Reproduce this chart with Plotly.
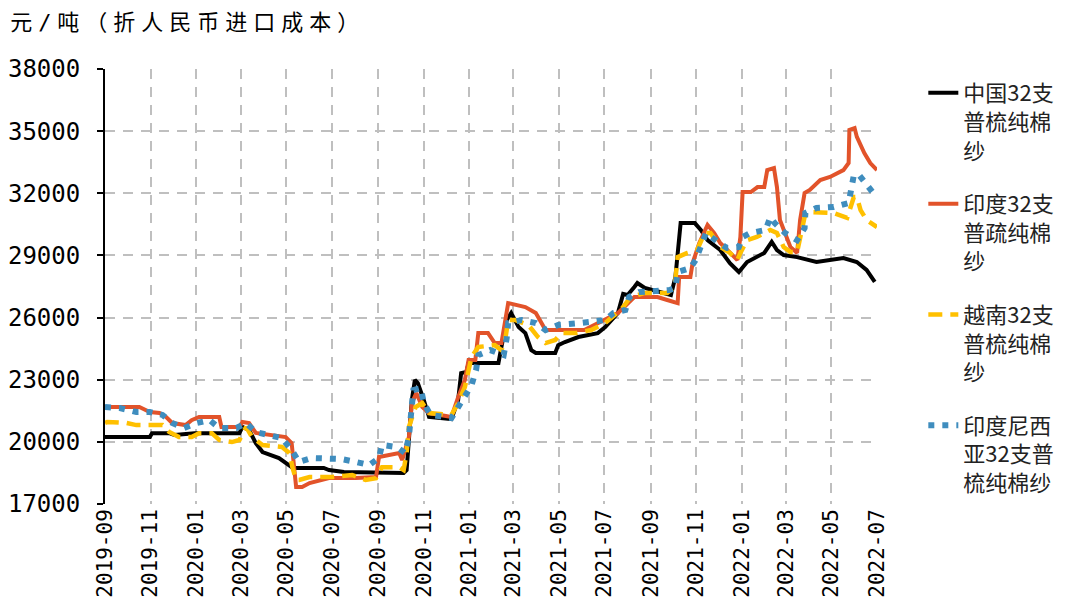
import plotly.graph_objects as go

# ---------------- data ----------------
china_dates = ["2019-09-01","2019-10-31","2019-11-03","2019-11-26","2019-12-03","2019-12-30","2020-02-28","2020-03-03","2020-03-12","2020-03-21","2020-03-30","2020-04-21","2020-05-08","2020-05-14","2020-06-20","2020-06-27","2020-07-17","2020-09-02","2020-10-05","2020-10-09","2020-10-16","2020-10-20","2020-10-24","2020-11-01","2020-11-08","2020-12-08","2020-12-17","2020-12-21","2020-12-28","2020-12-31","2021-02-09","2021-02-13","2021-02-20","2021-02-26","2021-03-08","2021-03-17","2021-03-25","2021-03-31","2021-04-26","2021-04-30","2021-05-09","2021-05-27","2021-06-22","2021-07-02","2021-07-19","2021-07-26","2021-08-01","2021-08-10","2021-08-14","2021-08-24","2021-09-19","2021-09-28","2021-10-04","2021-10-11","2021-10-30","2021-11-07","2021-11-16","2021-12-03","2021-12-16","2021-12-28","2022-01-08","2022-01-21","2022-01-31","2022-02-10","2022-02-17","2022-02-26","2022-03-16","2022-04-11","2022-04-29","2022-05-17","2022-06-04","2022-06-17","2022-06-28"]
china_vals = [20230,20230,20420,20420,20330,20420,20420,20720,20570,19940,19510,19220,18780,18740,18740,18640,18540,18500,18500,18640,22020,22990,22840,22020,21200,21100,22020,23320,23370,23810,23810,24580,25880,26220,25540,25250,24430,24290,24290,24670,24820,25060,25250,25540,26220,27140,27090,27480,27670,27430,27190,27090,27960,30560,30560,30230,29740,29260,28630,28200,28680,28920,29120,29650,29260,29020,28920,28680,28780,28870,28680,28300,27720]

india_dates = ["2019-09-01","2019-10-17","2019-10-31","2019-11-13","2019-11-22","2019-11-30","2019-12-18","2019-12-26","2020-01-05","2020-02-01","2020-02-04","2020-02-28","2020-03-03","2020-03-12","2020-03-21","2020-04-30","2020-05-08","2020-05-12","2020-05-14","2020-05-22","2020-06-01","2020-06-27","2020-08-02","2020-08-29","2020-09-02","2020-09-29","2020-10-03","2020-10-12","2020-10-16","2020-10-22","2020-10-30","2020-11-08","2020-12-08","2020-12-17","2020-12-26","2020-12-31","2021-01-09","2021-01-13","2021-01-26","2021-02-04","2021-02-13","2021-02-22","2021-03-17","2021-03-31","2021-04-13","2021-06-04","2021-06-22","2021-07-19","2021-08-10","2021-09-10","2021-09-23","2021-10-07","2021-10-09","2021-10-24","2021-10-27","2021-11-05","2021-11-16","2021-11-25","2021-12-03","2021-12-16","2021-12-26","2021-12-30","2022-01-02","2022-01-13","2022-01-22","2022-01-31","2022-02-04","2022-02-13","2022-02-17","2022-02-21","2022-03-07","2022-03-16","2022-03-20","2022-03-26","2022-04-02","2022-04-16","2022-04-29","2022-05-17","2022-05-24","2022-05-25","2022-06-01","2022-06-04","2022-06-14","2022-06-22","2022-07-01"]
india_vals = [21680,21680,21440,21390,21200,20910,20810,21050,21200,21200,20720,20720,20960,20910,20430,20230,19940,18160,17820,17820,18010,18250,18250,18300,19270,19460,19120,20230,21870,22360,21680,21390,21200,22160,22990,23950,23950,25250,25250,24770,24770,26700,26510,26220,25400,25400,25740,26220,26990,26990,26850,26700,27960,27960,28630,29600,30470,30080,29600,29120,28780,29890,32060,32060,32300,32300,33120,33220,32300,30710,29410,29120,30710,32010,32160,32640,32790,33120,33460,35060,35150,34720,33940,33460,33120]

vietnam_dates = ["2019-09-01","2019-09-04","2019-09-30","2019-10-13","2019-11-17","2019-11-26","2019-12-09","2019-12-26","2020-01-05","2020-01-22","2020-02-01","2020-02-18","2020-02-28","2020-03-08","2020-03-16","2020-03-30","2020-04-25","2020-05-05","2020-05-09","2020-05-14","2020-05-18","2020-06-01","2020-07-01","2020-07-28","2020-08-15","2020-08-29","2020-09-06","2020-09-29","2020-10-05","2020-10-09","2020-10-12","2020-10-21","2020-10-30","2020-11-08","2020-12-08","2020-12-17","2020-12-26","2021-01-04","2021-01-13","2021-02-04","2021-02-13","2021-02-18","2021-02-22","2021-03-04","2021-03-21","2021-04-03","2021-04-13","2021-04-26","2021-05-04","2021-05-23","2021-06-13","2021-07-02","2021-07-23","2021-08-05","2021-08-24","2021-09-23","2021-10-03","2021-10-07","2021-10-20","2021-11-02","2021-11-12","2021-11-20","2021-12-03","2021-12-16","2021-12-26","2021-12-30","2022-01-08","2022-01-21","2022-02-08","2022-02-17","2022-02-26","2022-03-07","2022-03-16","2022-03-26","2022-03-30","2022-05-04","2022-05-22","2022-05-31","2022-06-04","2022-06-09","2022-06-17","2022-07-01"]
vietnam_vals = [20910,20960,20910,20810,20810,20480,20230,20230,20420,20420,20090,19990,20090,20720,20230,19850,19750,19460,18780,18160,18160,18300,18300,18400,18160,18250,18780,18780,18640,19460,20720,21680,21870,21390,21300,21870,22650,24100,24580,24670,24430,24920,25880,25880,25640,25060,24770,24920,25250,25250,25400,25740,26370,26990,27190,27190,27480,28920,29120,29260,30080,30080,29410,29120,28780,29120,29740,29890,30230,30080,29410,29160,29160,30850,31100,31050,30810,31820,31820,31190,30710,30370]

indonesia_dates = ["2019-09-01","2019-09-21","2019-10-13","2019-10-31","2019-11-17","2019-11-30","2019-12-16","2020-01-02","2020-01-19","2020-02-01","2020-02-24","2020-03-08","2020-03-21","2020-04-08","2020-04-25","2020-05-08","2020-05-18","2020-06-04","2020-07-14","2020-08-02","2020-08-20","2020-09-02","2020-09-06","2020-09-26","2020-10-07","2020-10-12","2020-10-16","2020-10-18","2020-10-28","2020-11-01","2020-11-10","2020-12-08","2020-12-17","2020-12-26","2021-01-04","2021-01-10","2021-01-13","2021-01-29","2021-02-16","2021-02-20","2021-02-22","2021-03-12","2021-03-31","2021-04-13","2021-04-30","2021-05-30","2021-07-02","2021-07-13","2021-07-29","2021-08-03","2021-08-16","2021-09-26","2021-10-04","2021-10-07","2021-10-24","2021-10-31","2021-11-07","2021-11-14","2021-11-30","2021-12-12","2021-12-28","2022-01-02","2022-01-12","2022-02-02","2022-02-08","2022-02-14","2022-02-28","2022-03-16","2022-03-26","2022-03-27","2022-04-11","2022-05-04","2022-05-24","2022-05-28","2022-05-31","2022-06-07","2022-06-20","2022-06-28"]
indonesia_vals = [21680,21630,21440,21440,21300,20910,20670,20910,21050,20670,20670,20910,20470,20330,20180,19600,19030,19220,19170,19030,18880,19220,19850,19750,19460,20230,21680,22500,22600,21870,21300,21150,21680,22260,22740,23470,24190,24430,24190,25010,25740,25880,25740,25400,25640,25740,25880,26220,26370,26990,27230,27330,27430,28200,28390,28780,29500,30080,29650,29360,29410,29890,30080,30230,30850,30560,30080,29740,30320,31050,31290,31340,31530,32160,32880,32880,32300,31920]

series_names = ["中国32支<br>普梳纯棉<br>纱", "印度32支<br>普疏纯棉<br>纱", "越南32支<br>普梳纯棉<br>纱", "印度尼西<br>亚32支普<br>梳纯棉纱"]
y_ticks = [17000, 20000, 23000, 26000, 29000, 32000, 35000, 38000]
x_range = ["2019-09-01", "2022-07-01"]
title_text = "元/吨（折人民币进口成本）"

# ---------------- figure ----------------
fig = go.Figure()
fig.add_trace(go.Scatter(x=china_dates, y=china_vals, mode="lines", name=series_names[0],
                         legendgroup="a", line=dict(color="#000000", width=4)))
fig.add_trace(go.Scatter(x=india_dates, y=india_vals, mode="lines", name=series_names[1],
                         legendgroup="b", line=dict(color="#E2532A", width=4)))
fig.add_trace(go.Scatter(x=vietnam_dates, y=vietnam_vals, mode="lines", name=series_names[2],
                         legendgroup="c", line=dict(color="#FFC000", width=4.5, dash="14px,8px")))
fig.add_trace(go.Scatter(x=indonesia_dates, y=indonesia_vals, mode="lines", name=series_names[3],
                         legendgroup="d", line=dict(color="#3F8DBE", width=6, dash="6px,8px")))

grid = "#BFBFBF"
fig.update_layout(
    width=1063, height=600,
    margin=dict(l=97, r=191, t=61, b=104),
    paper_bgcolor="white", plot_bgcolor="white",
    title=dict(text='<span style="letter-spacing:6px">' + title_text + '</span>',
               xref="container", yref="container", x=0.002, y=0.977,
               xanchor="left", yanchor="middle", automargin=False,
               font=dict(family="DejaVu Sans Mono, Noto Sans CJK SC", size=22, color="#000")),
    legend=dict(x=1.06, xanchor="left", y=0.993, yanchor="top",
                font=dict(family="Noto Sans CJK SC", size=22, color="#222"),
                tracegroupgap=22, valign="top", itemwidth=30,
                bgcolor="rgba(0,0,0,0)"),
    showlegend=True,
)
fig.update_xaxes(type="date", range=x_range, tick0="2019-09-01", dtick="M2",
                 tickformat="%Y-%m", tickangle=-90, automargin=False,
                 tickfont=dict(family="DejaVu Sans Mono", size=21, color="#000"),
                 showgrid=True, gridcolor=grid, gridwidth=2, griddash="10px,8px",
                 showline=False, zeroline=False, ticks="")
fig.update_yaxes(range=[17000, 38000], tickvals=y_ticks, tickformat="d", automargin=False,
                 tickfont=dict(family="DejaVu Sans Mono", size=24, color="#000"),
                 showgrid=True, gridcolor=grid, gridwidth=2, griddash="10px,8px",
                 showline=True, linecolor="#000", linewidth=2,
                 ticks="outside", ticklen=6, tickwidth=2, tickcolor="#000",
                 zeroline=False, ticklabelstandoff=12)

fig.write_html("out.html")
